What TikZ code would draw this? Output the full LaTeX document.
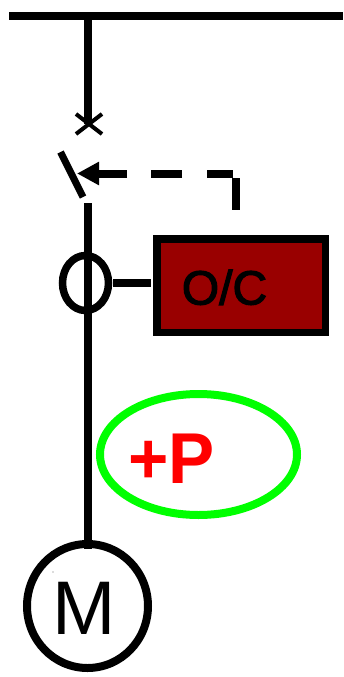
\documentclass[tikz,border=0pt]{standalone}
\usepackage{fontspec}
\setmainfont{Liberation Sans}
\newfontface\heavyface[FakeBold=2.5]{Liberation Sans}
\usetikzlibrary{shapes.geometric,arrows.meta,calc}
\definecolor{relayred}{HTML}{990000}
\definecolor{ringgreen}{HTML}{00FF00}
\tikzset{
  wire/.style={draw=black,line width=8pt},
  thin wire/.style={draw=black,line width=4pt},
  ring/.style={ellipse,draw=black,inner sep=0pt,outer sep=0pt,fill=none},
  label text/.style={inner sep=0pt,outer sep=0pt,anchor=base},
}
\begin{document}
\begin{tikzpicture}[x=1pt,y=-1pt]
\useasboundingbox (0,0) rectangle (343,677);
% named points
\coordinate (busL) at (9,16);
\coordinate (busR) at (343,16);
\coordinate (busT) at (87.5,16);
\coordinate (breaker) at (87.5,124);
\coordinate (xa) at (76,114);
\coordinate (xb) at (102,134);
\coordinate (xc) at (102,114);
\coordinate (xd) at (76,134);
\coordinate (bladeA) at (60.5,152);
\coordinate (bladeB) at (83,197);
\coordinate (lineTop) at (87.5,203);
\coordinate (lineBot) at (87.5,549);
\coordinate (tip) at (77,173.5);
\coordinate (corner) at (233,173.5);
\coordinate (dropA) at (236,178);
\coordinate (dropB) at (236,210);
\coordinate (ctOut) at (113,283);
\coordinate (relayIn) at (151,283);
% CT, relay, motor, P ring
\node[ring,line width=7.5pt,minimum width=46pt,minimum height=55pt] (ct) at (85.5,283) {};
\node[rectangle,draw=black,line width=7.5pt,fill=relayred,minimum width=168.5pt,minimum height=93.5pt,inner sep=0pt,outer sep=0pt] (relay) at (241,285.5) {};
\node[ring,line width=8pt,minimum width=121pt,minimum height=124pt] (motor) at (87.5,606) {};
\node[ring,draw=ringgreen,line width=8pt,minimum width=197pt,minimum height=121pt] (pring) at (198.5,454.5) {};
% connectors
\draw[wire] (busL) -- (busR);
\draw[wire] (busT) -- (breaker);
\draw[thin wire] (xa) -- (xb);
\draw[thin wire] (xc) -- (xd);
\draw[line width=7pt] (bladeA) -- (bladeB);
\draw[wire] (lineTop) -- (lineBot);
\draw[wire] (ctOut) -- (relayIn);
\draw[line width=8pt,dash pattern=on 26pt off 25pt on 31pt off 24pt on 60pt,
      -{Triangle[length=22pt,width=22pt]}] (corner) -- (tip);
\draw[wire] (dropA) -- (dropB);
% labels
\node[label text,font=\heavyface\fontsize{48}{48}\selectfont] (oc) at (224.5,304.5) {O/C};
\node[label text,font=\fontsize{72}{72}\bfseries\selectfont,text=red,xscale=.96] (p) at (171.5,483) {+P};
\node[label text,font=\fontsize{76}{76}\selectfont] (m) at (84,634) {M};
\fill[black!60] (53,572) circle (.7pt);
\end{tikzpicture}
\end{document}
